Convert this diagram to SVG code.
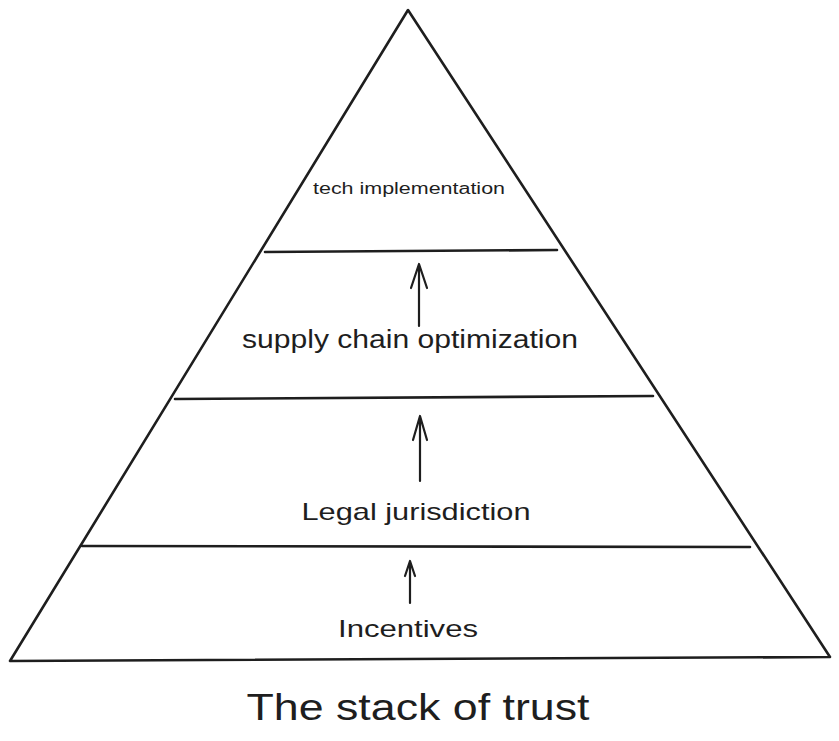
<svg xmlns="http://www.w3.org/2000/svg" width="839" height="741" viewBox="0 0 839 741">
<defs>
<style>
.ln{fill:none;stroke:#1e1e1e;stroke-width:2.6;stroke-linecap:round;stroke-linejoin:round}
.ar{fill:none;stroke:#1e1e1e;stroke-width:2.2;stroke-linecap:round;stroke-linejoin:round}
.t{font-family:"Liberation Sans","DejaVu Sans",sans-serif;fill:#1e1e1e;text-anchor:middle}
</style>
</defs>
<rect width="839" height="741" fill="#ffffff"/>
<g id="pyramid">
<path class="ln" d="M408 10 L10 661 L830 657 Z"/>
</g>
<g id="layer-tech">
<text class="t" x="409" y="194" font-size="16" textLength="192" lengthAdjust="spacingAndGlyphs">tech implementation</text>
</g>
<g id="layer-supply">
<line class="ln" x1="265" y1="252" x2="557" y2="250"/>
<text class="t" x="410" y="348" font-size="25" textLength="336" lengthAdjust="spacingAndGlyphs">supply chain optimization</text>
</g>
<g id="layer-legal">
<line class="ln" x1="175" y1="399" x2="653" y2="396"/>
<text class="t" x="416" y="520" font-size="24" textLength="229" lengthAdjust="spacingAndGlyphs">Legal jurisdiction</text>
</g>
<g id="layer-incentives">
<line class="ln" x1="82" y1="546" x2="750" y2="547"/>
<text class="t" x="408" y="637" font-size="24" textLength="140" lengthAdjust="spacingAndGlyphs">Incentives</text>
</g>
<g id="title">
<text class="t" x="418" y="720" font-size="36" textLength="343" lengthAdjust="spacingAndGlyphs">The stack of trust</text>
</g>
<g id="connectors">
<path class="ar" d="M419 326 L419 264 M411 288 L419 264 L427 288"/>
<path class="ar" d="M420 481 L420 416 M413 440 L420 416 L427 440"/>
<path class="ar" d="M410 603 L410 561 M405 576 L410 561 L415 576"/>
</g>
</svg>
